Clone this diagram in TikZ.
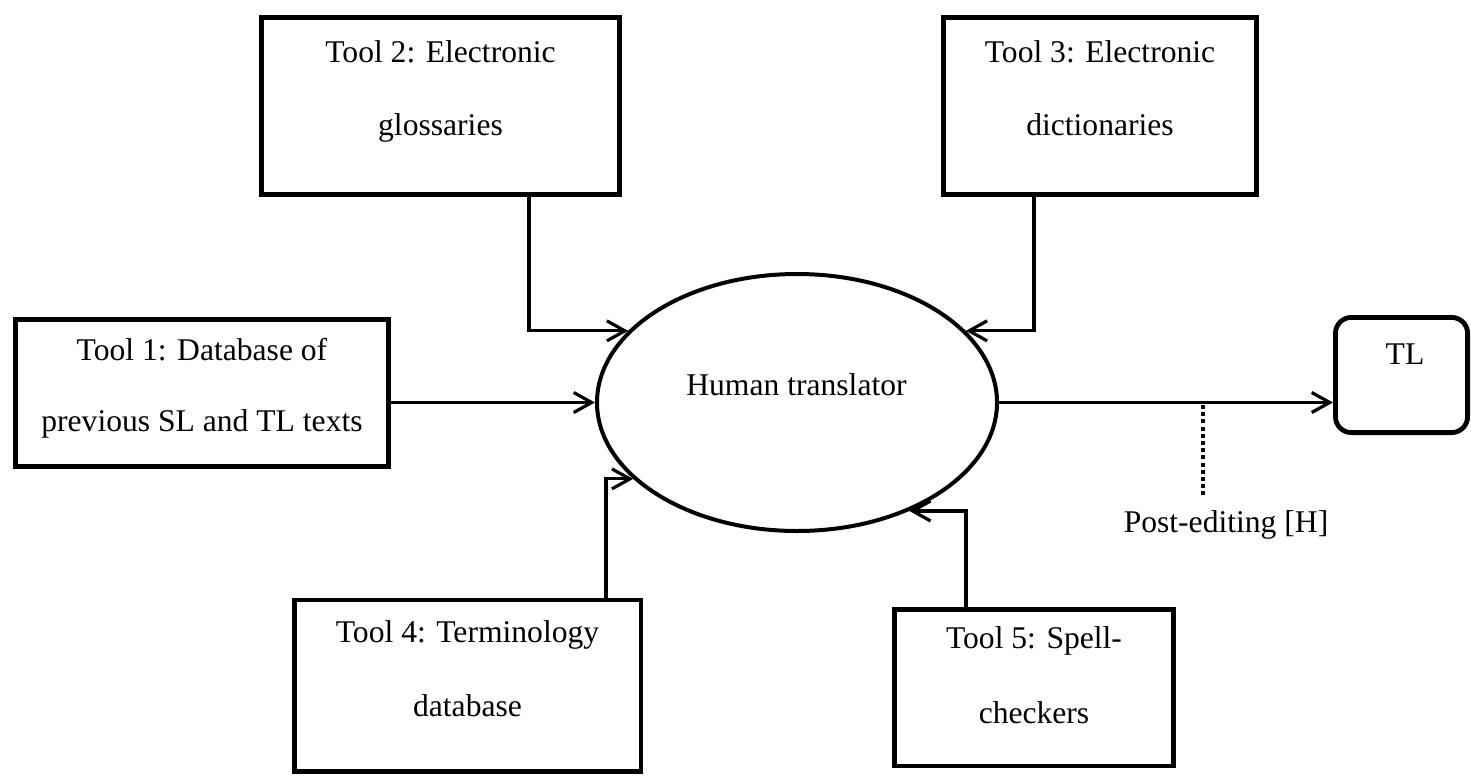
\documentclass[tikz,border=0pt]{standalone}
\usepackage{fontspec}
\setmainfont{Liberation Serif}
\usetikzlibrary{arrows.meta,calc,shapes.geometric}
\begin{document}
\begin{tikzpicture}[x=0.5pt,y=-0.5pt,
  box/.style={draw,line width=2.4pt,rectangle,inner sep=0pt},
  txt/.style={inner sep=0pt,align=center,anchor=north},
  lbl/.style={inner sep=0pt,anchor=base,font=\fontsize{15.8}{19}\selectfont},
  conn/.style={line width=1.6pt,-{Straight Barb[length=9pt,width=10pt]}},
]
\useasboundingbox (0,0) rectangle (1471,776);

% boxes
\node[box,minimum width=186.6pt,minimum height=73.6pt] (t1) at (202,393) {};
\node[box,minimum width=179.1pt,minimum height=88.6pt] (t2) at (440.5,106) {};
\node[box,minimum width=156.6pt,minimum height=88.6pt] (t3) at (1100,106) {};
\node[box,minimum width=173.4pt,minimum height=85.6pt] (t4) at (467.5,685.5) {};
\node[box,minimum width=139.75pt,minimum height=78.4pt] (t5) at (1034,687.5) {};
\node[box,rounded corners=8pt,minimum width=66.1pt,minimum height=57.6pt] (tl) at (1401.5,375) {};
\node[draw,ellipse,line width=2pt,inner sep=0pt,minimum width=200pt,minimum height=128.5pt] (hum) at (797,402.5) {};

% texts
\node[txt,font=\fontsize{15.8}{35.5}\selectfont] (t1txt) at (202,337.4) {Tool 1: Database of\\previous SL and TL texts};
\node[txt,font=\fontsize{15.8}{36.5}\selectfont] (t2txt) at (440.5,40.4) {Tool 2: Electronic\\glossaries};
\node[txt,font=\fontsize{15.8}{36.5}\selectfont] (t3txt) at (1100,40.4) {Tool 3: Electronic\\dictionaries};
\node[txt,font=\fontsize{15.8}{37}\selectfont] (t4txt) at (467.5,620.4) {Tool 4: Terminology\\database};
\node[txt,font=\fontsize{15.8}{37.5}\selectfont] (t5txt) at (1034,626.4) {Tool 5: Spell-\\checkers};
\node[lbl] (tltxt) at (1405,364) {TL};
\node[lbl] (humtxt) at (796.5,395) {Human translator};
\node[lbl] (petxt) at (1226,532) {Post-editing [H]};

% connectors
\draw[conn] (t1.east |- hum.west) -- (hum.west);
\draw[conn] (hum.east) -- (tl.west |- hum.east);
\draw[conn] ($(t2.south)+(88.5,0)$) |- (hum.157.1);
\draw[conn] ($(t3.south)+(-66,0)$) |- (hum.23.3);
\draw[conn] ($(t4.north)+(138.5,0)$) |- (hum.205.5);
\draw[conn] ($(t5.north)+(-68,0)$) |- (hum.316.4);

\coordinate (pe1) at (1203,405);
\coordinate (pe2) at (1203,497);
\draw[line width=1.6pt,dash pattern=on 2pt off 1.6pt] (pe1) -- (pe2);
\end{tikzpicture}
\end{document}
